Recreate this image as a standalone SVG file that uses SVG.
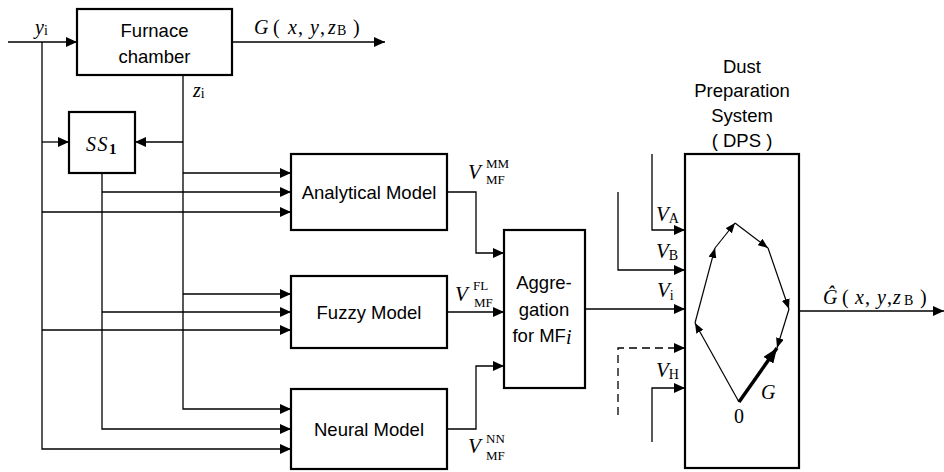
<svg xmlns="http://www.w3.org/2000/svg" width="944" height="472" viewBox="0 0 944 472">
<style>
.box{fill:#fff;stroke:#000;stroke-width:2.2}
.ln{fill:none;stroke:#000;stroke-width:1.3}
.in{fill:none;stroke:#000;stroke-width:1.2}
.sans{font-family:"Liberation Sans",Arial,sans-serif;font-size:18.5px;fill:#000}
.ser{font-family:"Liberation Serif","Times New Roman",serif;font-size:20px;fill:#000}
.it{font-style:italic}
.v{font-family:"Liberation Serif","Times New Roman",serif;font-size:21px;font-style:italic;fill:#000}
.sub{font-family:"Liberation Serif","Times New Roman",serif;font-size:14px;font-style:normal;fill:#000}
.sm{font-family:"Liberation Serif","Times New Roman",serif;font-size:13px;fill:#000}
</style>
<defs>
<marker id="a" markerUnits="userSpaceOnUse" markerWidth="11" markerHeight="10" refX="11" refY="5" orient="auto"><path d="M0,0 L11,5 L0,10 z" fill="#000"/></marker>
<marker id="s" markerUnits="userSpaceOnUse" markerWidth="10" markerHeight="8" refX="10" refY="4" orient="auto"><path d="M0,0 L10,4 L0,8 z" fill="#000"/></marker>
<marker id="g" markerUnits="userSpaceOnUse" markerWidth="15" markerHeight="12" refX="15" refY="6" orient="auto"><path d="M0,0 L15,6 L0,12 z" fill="#000"/></marker>
</defs>

<g id="connectors">
<path class="ln" d="M8,42 H77" marker-end="url(#a)"/>
<path class="ln" d="M42,42 V449 H291" marker-end="url(#a)"/>
<path class="ln" d="M42,142 H69" marker-end="url(#a)"/>
<path class="ln" d="M42,212 H291" marker-end="url(#a)"/>
<path class="ln" d="M42,330 H291" marker-end="url(#a)"/>
<path class="ln" d="M183,75 V409 H291" marker-end="url(#a)"/>
<path class="ln" d="M183,142 H135" marker-end="url(#a)"/>
<path class="ln" d="M183,173 H291" marker-end="url(#a)"/>
<path class="ln" d="M183,294 H291" marker-end="url(#a)"/>
<path class="ln" d="M102,173 V429 H291" marker-end="url(#a)"/>
<path class="ln" d="M102,192 H291" marker-end="url(#a)"/>
<path class="ln" d="M102,312 H291" marker-end="url(#a)"/>
<path class="ln" d="M232,42 H385" marker-end="url(#a)"/>
<path class="ln" d="M447,192 H476 V253 H504" marker-end="url(#a)"/>
<path class="ln" d="M447,312 H504" marker-end="url(#a)"/>
<path class="ln" d="M447,429 H476 V366 H504" marker-end="url(#a)"/>
<path class="ln" d="M585,309 H685" marker-end="url(#a)"/>
<path class="ln" d="M652,154 V230 H685" marker-end="url(#a)"/>
<path class="ln" d="M618,192 V270 H685" marker-end="url(#a)"/>
<path class="ln" d="M618,415 V348 H685" stroke-dasharray="8,5" marker-end="url(#a)"/>
<path class="ln" d="M652,442 V388 H685" marker-end="url(#a)"/>
<path class="ln" d="M799,311 H944" marker-end="url(#a)"/>
</g>

<g id="furnace">
<rect class="box" x="77" y="9" width="155" height="66"/>
<text class="sans" x="154.5" y="37" text-anchor="middle">Furnace</text>
<text class="sans" x="154.5" y="63" text-anchor="middle">chamber</text>
</g>

<g id="ss1">
<rect class="box" x="69" y="112" width="66" height="61"/>
<text class="ser" x="86" y="151" font-size="21"><tspan font-style="italic" letter-spacing="1.5">SS</tspan><tspan font-weight="bold" font-size="15" dy="3">1</tspan></text>
</g>

<g id="analytical">
<rect class="box" x="291" y="154" width="156" height="76"/>
<text class="sans" x="369" y="199" text-anchor="middle">Analytical Model</text>
</g>

<g id="fuzzy">
<rect class="box" x="291" y="276" width="156" height="72"/>
<text class="sans" x="369" y="319" text-anchor="middle">Fuzzy Model</text>
</g>

<g id="neural">
<rect class="box" x="291" y="389" width="156" height="80"/>
<text class="sans" x="369" y="436" text-anchor="middle">Neural Model</text>
</g>

<g id="aggregation">
<rect class="box" x="504" y="230" width="81" height="158"/>
<text class="sans" x="544" y="289" text-anchor="middle">Aggre-</text>
<text class="sans" x="544" y="316" text-anchor="middle">gation</text>
<text class="sans" x="542" y="342" text-anchor="middle">for MF<tspan class="ser it" font-size="14" dy="2">i</tspan></text>
</g>

<g id="dps">
<rect class="box" x="685" y="154" width="114" height="314"/>
<text class="sans" x="742" y="73" text-anchor="middle" font-size="16.5">Dust</text>
<text class="sans" x="742" y="97" text-anchor="middle" font-size="16.5">Preparation</text>
<text class="sans" x="742" y="122" text-anchor="middle" font-size="16.5">System</text>
<text class="sans" x="742" y="147" text-anchor="middle" font-size="16.5">( DPS )</text>
<path class="in" d="M739,402 L695,323" marker-end="url(#s)"/>
<path class="in" d="M695,323 L715,248" marker-end="url(#s)"/>
<path class="in" d="M715,248 L735,223" marker-end="url(#s)"/>
<path class="in" d="M735,223 L768,248" marker-end="url(#s)"/>
<path class="in" d="M768,248 L789,309" marker-end="url(#s)"/>
<path class="in" d="M789,309 L777,348" marker-end="url(#s)"/>
<path d="M739,402 L777,348" fill="none" stroke="#000" stroke-width="3.5" marker-end="url(#g)"/>
<text class="ser it" x="761" y="399" font-size="21">G</text>
<text class="ser" x="739" y="423" text-anchor="middle" font-size="19">0</text>
</g>

<g id="labels">
<text class="ser" x="35" y="34"><tspan class="it">y</tspan><tspan font-size="14" dy="1">i</tspan></text>
<text class="ser" x="193" y="97"><tspan class="it">z</tspan><tspan font-size="14" dy="1">i</tspan></text>
<text class="ser" y="34"><tspan class="it" x="254">G</tspan><tspan x="273">(</tspan><tspan class="it" x="288">x</tspan><tspan x="298">,</tspan><tspan class="it" x="310">y</tspan><tspan x="320">,</tspan><tspan class="it" x="328">z</tspan><tspan x="337" font-size="14" dy="1">B</tspan><tspan x="353" dy="-1">)</tspan></text>
<text class="ser" y="304"><tspan class="it" x="823">Ĝ</tspan><tspan x="842">(</tspan><tspan class="it" x="855">x</tspan><tspan x="865">,</tspan><tspan class="it" x="877">y</tspan><tspan x="887">,</tspan><tspan class="it" x="893">z</tspan><tspan x="904" font-size="14" dy="1">B</tspan><tspan x="920" dy="-1">)</tspan></text>
<text class="v" x="468" y="179">V</text>
<text class="sm" x="486" y="168">MM</text>
<text class="sm" x="486" y="184">MF</text>
<text class="v" x="455" y="301">V</text>
<text class="sm" x="473" y="290">FL</text>
<text class="sm" x="474" y="307">MF</text>
<text class="v" x="468" y="453">V</text>
<text class="sm" x="486" y="443">NN</text>
<text class="sm" x="486" y="460">MF</text>
<text class="v" x="656" y="221">V<tspan class="sub" dy="2">A</tspan></text>
<text class="v" x="656" y="258">V<tspan class="sub" dy="2">B</tspan></text>
<text class="v" x="657" y="297">V<tspan class="sub" dy="3">i</tspan></text>
<text class="v" x="656" y="377">V<tspan class="sub" dy="2">H</tspan></text>
</g>
</svg>
